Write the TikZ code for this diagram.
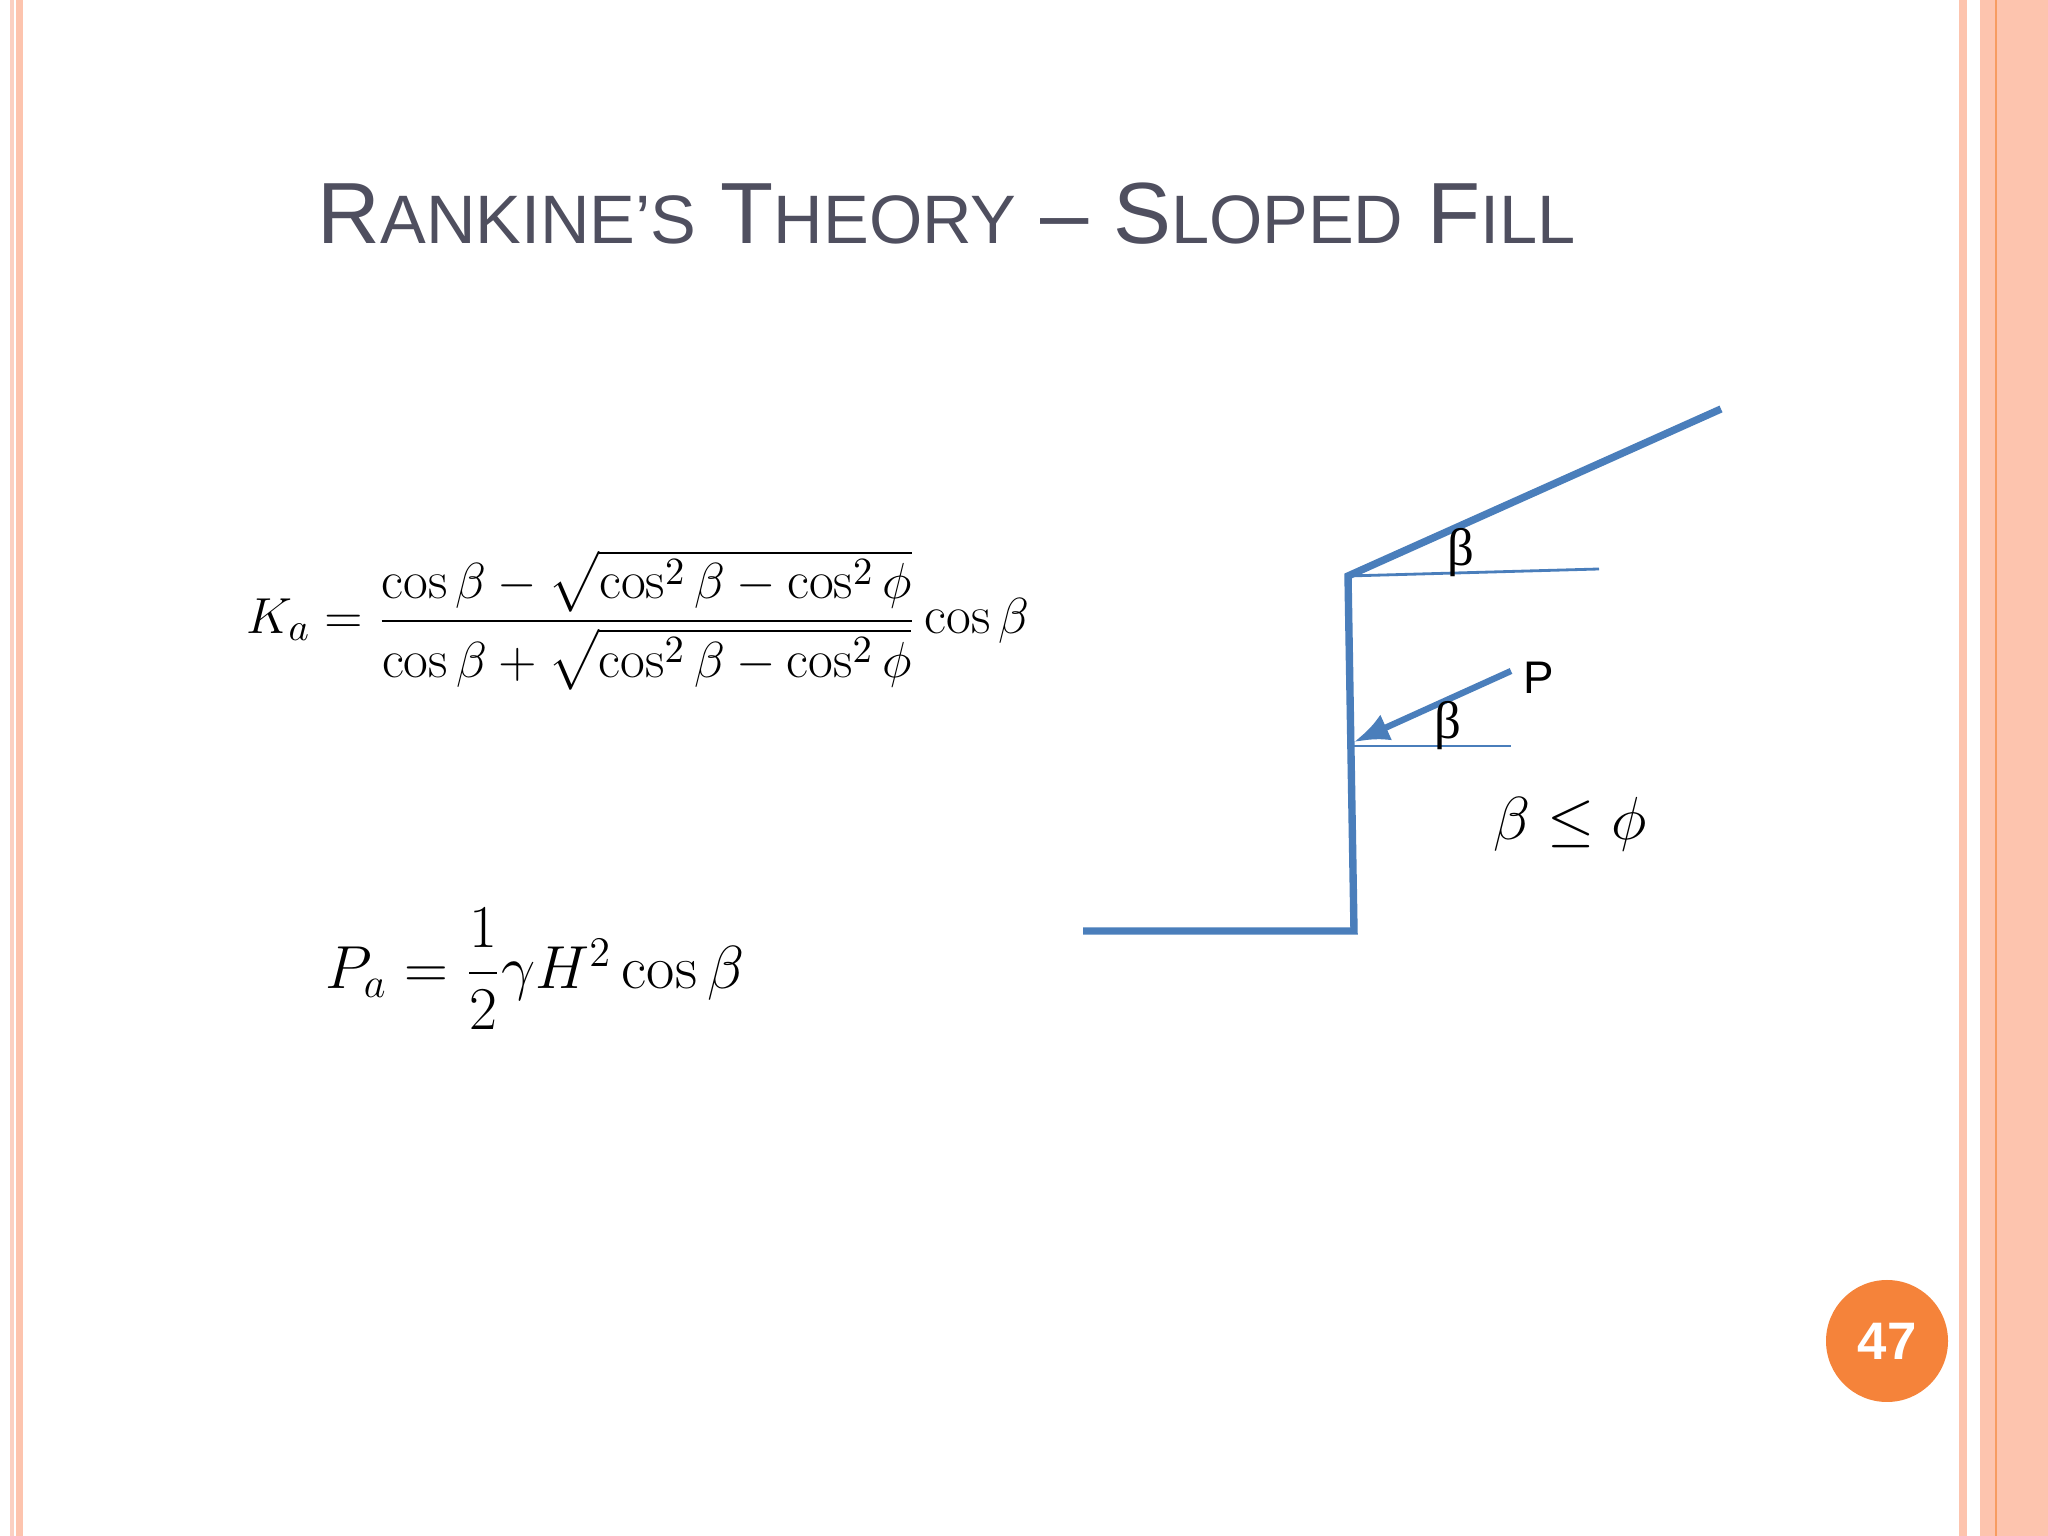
\documentclass[tikz,border=0pt]{standalone}
\usepackage{fontspec}
\usepackage{amsmath}
\newfontfamily\arialf{Liberation Sans}
\newfontfamily\timesf{Liberation Serif}
\usetikzlibrary{arrows.meta}
\definecolor{salm}{HTML}{FDC4AE}
\definecolor{salml}{HTML}{FBD0C2}
\definecolor{orn}{HTML}{F5833A}
\definecolor{ttl}{HTML}{4F4F5F}
\definecolor{blu}{HTML}{4A7EBB}
\tikzset{wallline/.style={blu,line width=2.1pt},thinb/.style={blu,line width=0.8pt}}
\begin{document}
\begin{tikzpicture}[x=0.01cm,y=0.01cm]
\useasboundingbox (0,0) rectangle (2048,1536);
\fill[white] (0,0) rectangle (2048,1536);
% borders
\fill[salml] (10,0) rectangle (14,1536);
\fill[salm] (16,0) rectangle (23,1536);
\fill[salm] (1959,0) rectangle (1967,1536);
\fill[salm] (1980,0) rectangle (2048,1536);
\fill[orn!80] (1995,0) rectangle (1997,1536);
% title
\node[anchor=base west,text=ttl,inner sep=0] (t) at (317,1292) {\arialf\fontsize{24.7}{30}\selectfont R{\fontsize{19.5}{24}\selectfont ANKINE’S} T{\fontsize{19.5}{24}\selectfont HEORY} – S{\fontsize{19.5}{24}\selectfont LOPED} F{\fontsize{19.5}{24}\selectfont ILL}};
% formulas
\node (ka) at (638,916) {\fontsize{15.3}{18}\selectfont $K_a=\dfrac{\cos\beta-\sqrt{\cos^2\beta-\cos^2\phi}}{\cos\beta+\sqrt{\cos^2\beta-\cos^2\phi}}\cos\beta$};
\node (pa) at (535,567) {\fontsize{17.5}{21}\selectfont $P_a=\dfrac{1}{2}\gamma H^2\cos\beta$};
% diagram
\coordinate (top) at (1348,960);
\coordinate (sl) at (1721,1127);
\coordinate (ref) at (1599,967);
\coordinate (foot) at (1354,605);
\coordinate (gl) at (1083,605);
\coordinate (pa1) at (1511,865);
\coordinate (pa2) at (1354,794);
\coordinate (ph) at (1511,790);
\draw[wallline] (sl) -- (top) -- (foot) -- (gl);
\draw[thinb] (top) -- (ref);
\draw[thinb] (1354,790) -- (ph);
\draw[blu,line width=1.8pt,-{Latex[length=10pt,width=8pt]}] (pa1) -- (pa2);
\node (b1) at (1461,983) {\timesf\fontsize{15}{18}\selectfont β};
\node (b2) at (1448,810) {\timesf\fontsize{15}{18}\selectfont β};
\node (p) at (1539,858) {\arialf\fontsize{13}{16}\selectfont P};
\node (cond) at (1570,712) {\fontsize{18}{22}\selectfont $\beta\le\phi$};
% page number
\fill[orn] (1887,195) circle (61);
\node[text=white] (num) at (1887,195) {\arialf\bfseries\fontsize{15}{18}\selectfont 47};
\end{tikzpicture}
\end{document}
